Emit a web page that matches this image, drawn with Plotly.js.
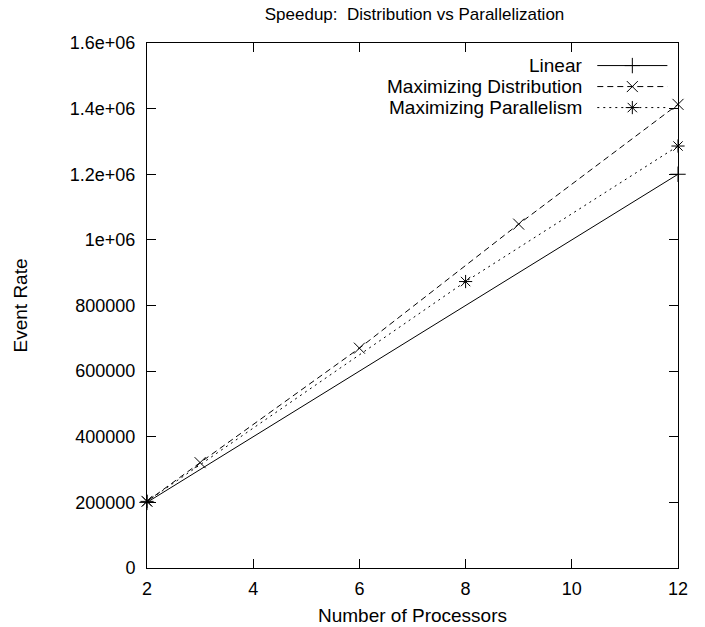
<!DOCTYPE html>
<html>
<head>
<meta charset="utf-8">
<script src="https://cdn.plot.ly/plotly-3.0.1.min.js"></script>
<style>html,body{margin:0;padding:0;background:#fff;}#chart{width:705px;height:627px;}</style>
</head>
<body>
<div id="chart"></div>
<script>
// ---- data ----
const linearX = [2, 12];
const linearY = [200000, 1200000];
const distX = [2, 3, 6, 9, 12];
const distY = [203000, 321000, 670000, 1048000, 1413000];
const parX = [2, 8, 12];
const parY = [203000, 873000, 1286000];
const seriesNames = ["Linear", "Maximizing Distribution", "Maximizing Parallelism"];
const xTicks = [2, 4, 6, 8, 10, 12];
const yTickVals = [0, 200000, 400000, 600000, 800000, 1000000, 1200000, 1400000, 1600000];
const yTickText = ["0", "200000", "400000", "600000", "800000", "1e+06", "1.2e+06", "1.4e+06", "1.6e+06"];

const FONT = "Liberation Sans, Arial, Helvetica, sans-serif";
const dashes = ["solid", "6px,4px", "2px,4px"];
const symbols = ["cross-thin-open", "x-thin-open", "asterisk-open"];
const xs = [linearX, distX, parX];
const ys = [linearY, distY, parY];

const traces = xs.map((x, i) => ({
  x: x, y: ys[i], type: "scatter", mode: "lines+markers", name: seriesNames[i],
  line: {color: "#000", width: 1, dash: dashes[i]},
  marker: {symbol: symbols[i], size: 11, color: "#000", line: {color: "#000", width: 1}},
  showlegend: false, cliponaxis: false
}));

// custom gnuplot-style key (text left of sample)
const keyY = [0.957, 0.917, 0.877];
const annotations = [];
const shapes = [];
seriesNames.forEach((n, i) => {
  annotations.push({xref: "paper", yref: "paper", x: 0.823, y: keyY[i], xanchor: "right", yanchor: "middle",
    text: n, showarrow: false, font: {family: FONT, size: 19, color: "#000"}});
  shapes.push({type: "line", xref: "paper", yref: "paper", x0: 0.848, x1: 0.98, y0: keyY[i], y1: keyY[i],
    line: {color: "#000", width: 1, dash: dashes[i]}});
});

const layout = {
  width: 705, height: 627,
  margin: {l: 147, r: 27, t: 43, b: 59},
  paper_bgcolor: "#fff", plot_bgcolor: "#fff",
  font: {family: FONT, size: 18, color: "#000"},
  title: {text: "Speedup:  Distribution vs Parallelization", x: 0.588, xanchor: "center", y: 0.978, yanchor: "middle",
    font: {family: FONT, size: 17, color: "#000"}},
  xaxis: {range: [2, 12], tickvals: xTicks, ticks: "inside", ticklen: 9, tickwidth: 1, tickcolor: "#000",
    showline: true, linecolor: "#000", linewidth: 1, mirror: "ticks", showgrid: false, zeroline: false,
    ticklabelstandoff: 4,
    title: {text: "Number of Processors", font: {family: FONT, size: 19}, standoff: 11},
    tickfont: {family: FONT, size: 18}},
  yaxis: {range: [0, 1600000], tickvals: yTickVals, ticktext: yTickText, ticks: "inside", ticklen: 9, tickwidth: 1, tickcolor: "#000",
    showline: true, linecolor: "#000", linewidth: 1, mirror: "ticks", showgrid: false, zeroline: false,
    ticklabelstandoff: 7,
    title: {text: "Event Rate", font: {family: FONT, size: 19}, standoff: 37},
    tickfont: {family: FONT, size: 18}},
  annotations: annotations,
  shapes: shapes
};

// key sample markers via a separate overlay axis (legend decoration)
layout.xaxis2 = {overlaying: "x", range: [0, 1], visible: false, fixedrange: true};
layout.yaxis2 = {overlaying: "y", range: [0, 1], visible: false, fixedrange: true};
traces.push({
  x: [0.914, 0.914, 0.914], y: keyY.map(v => v), xaxis: "x2", yaxis: "y2", type: "scatter", mode: "markers",
  marker: {symbol: symbols, size: 11, color: "#000", line: {color: "#000", width: 1}},
  showlegend: false, hoverinfo: "skip", cliponaxis: false
});

Plotly.newPlot("chart", traces, layout, {displayModeBar: false, staticPlot: true});
</script>
</body>
</html>
